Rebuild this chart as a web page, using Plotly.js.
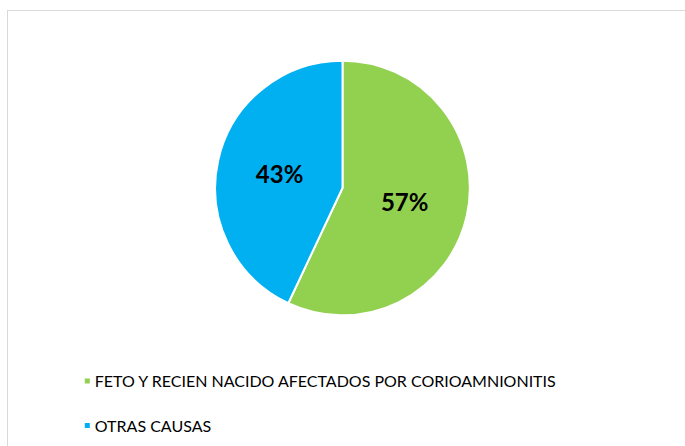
<!DOCTYPE html>
<html>
<head>
<meta charset="utf-8">
<script src="https://cdn.plot.ly/plotly-3.0.1.min.js"></script>
<style>
html,body{margin:0;padding:0;background:#fff;}
#frame{position:absolute;left:7px;top:10px;width:700px;height:460px;border:1px solid #d9d9d9;box-sizing:border-box;}
#chart{position:absolute;left:0;top:0;width:685px;height:446px;}
</style>
</head>
<body>
<div id="frame"></div>
<div id="chart"></div>
<script>
const categories = ["FETO Y RECIEN NACIDO AFECTADOS POR CORIOAMNIONITIS", "OTRAS CAUSAS"];
const values = [57, 43];
const colors = ["#92D050", "#00B0F0"];

const trace = {
  type: 'pie',
  labels: categories.map(c => ' <br>' + c),
  values: values,
  sort: false,
  direction: 'clockwise',
  rotation: 0,
  marker: {colors: colors, line: {color: '#ffffff', width: 2}},
  texttemplate: '%{percent:.0%}',
  textposition: 'inside',
  insidetextorientation: 'horizontal',
  textfont: {family: 'Lato, sans-serif', size: 24, color: '#000000', weight: 'bold'},
  hoverinfo: 'percent',
  domain: {x: [0.3139, 0.6861], y: [0.293, 0.864]}
};

const layout = {
  width: 685, height: 446,
  margin: {l: 0, r: 0, t: 0, b: 0},
  paper_bgcolor: 'rgba(0,0,0,0)',
  plot_bgcolor: 'rgba(0,0,0,0)',
  showlegend: true,
  legend: {
    x: 0.08, y: 0.006, xanchor: 'left', yanchor: 'bottom',
    orientation: 'v', valign: 'bottom',
    font: {family: 'Lato, sans-serif', size: 16, color: '#000000'},
    bgcolor: 'rgba(0,0,0,0)'
  }
};

Plotly.newPlot('chart', [trace], layout, {displayModeBar: false, staticPlot: true}).then(function(){
  document.querySelectorAll('#chart .legendpoints path').forEach(function(p){
    p.setAttribute('d', 'M16,3.5H9V-3.5H16Z');
  });
});
</script>
</body>
</html>
